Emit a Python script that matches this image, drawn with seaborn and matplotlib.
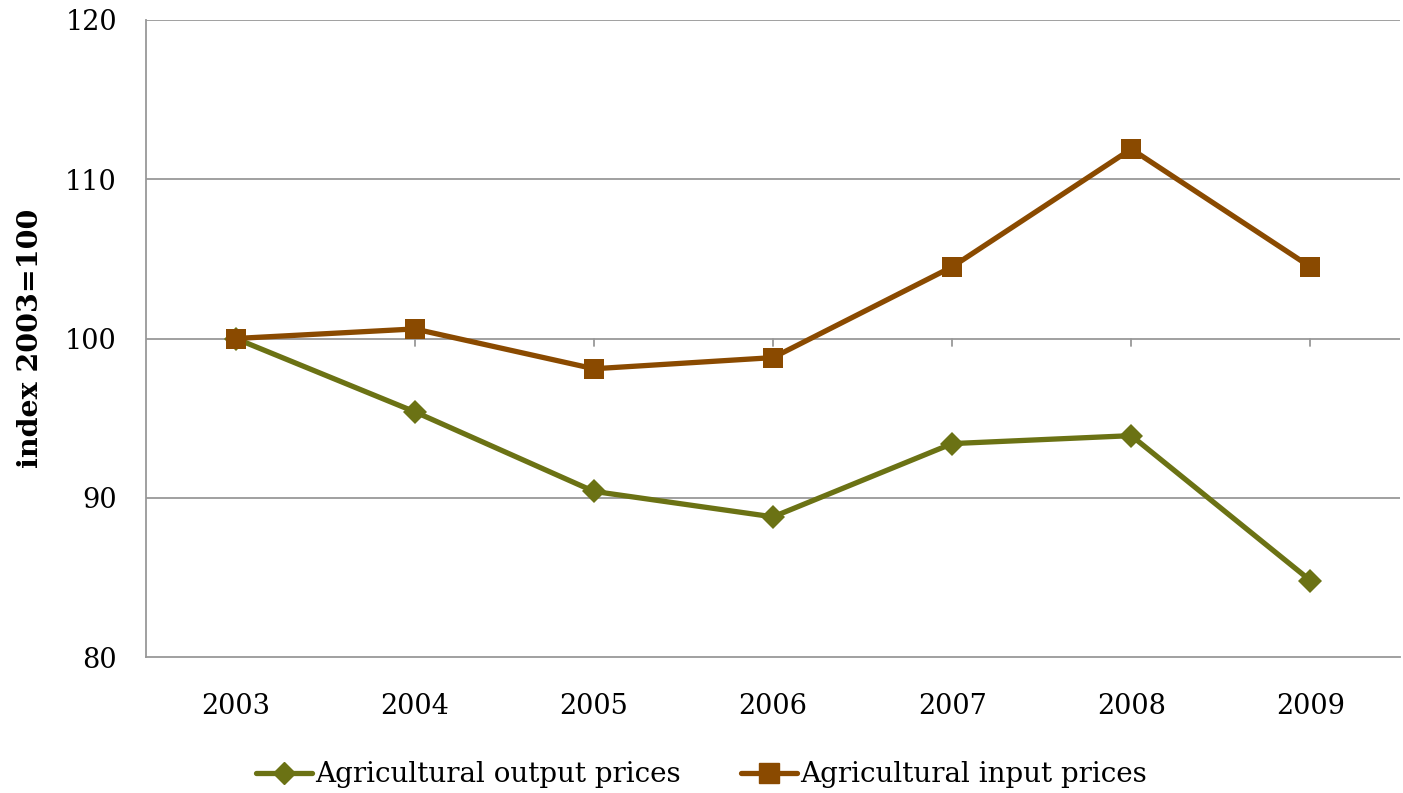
import matplotlib
matplotlib.use("Agg")
import matplotlib.pyplot as plt
import seaborn as sns
import pandas as pd
from matplotlib.lines import Line2D

years = ["2003", "2004", "2005", "2006", "2007", "2008", "2009"]
output_prices = [100.0, 95.4, 90.4, 88.8, 93.4, 93.9, 84.8]
input_prices = [100.0, 100.6, 98.1, 98.8, 104.5, 111.9, 104.5]
series_names = ["Agricultural output prices", "Agricultural input prices"]

green = "#6B7214"
brown = "#8A4A00"
grid_grey = "#989898"
marker_sizes = {series_names[0]: 12, series_names[1]: 14.5}

sns.set_theme(style="white")
plt.rcParams["font.family"] = ["DejaVu Serif"]
plt.rcParams["text.color"] = "black"
plt.rcParams["xtick.color"] = "black"
plt.rcParams["ytick.color"] = "black"
plt.rcParams["axes.labelcolor"] = "black"

df = pd.DataFrame({
    "year": years * 2,
    "x": list(range(len(years))) * 2,
    "value": output_prices + input_prices,
    "series": [series_names[0]] * len(years) + [series_names[1]] * len(years),
})

fig = plt.figure(figsize=(14.03, 7.93), dpi=100)
ax = fig.add_axes([146 / 1403, 1 - 657 / 793, (1400 - 146) / 1403, (657 - 20) / 793])

sns.lineplot(data=df, x="x", y="value", hue="series", style="series",
             palette={series_names[0]: green, series_names[1]: brown},
             markers={series_names[0]: "D", series_names[1]: "s"},
             dashes=False, linewidth=3.8, markersize=14.5, markeredgewidth=0,
             ax=ax, legend=False, zorder=3)

# diamond markers are drawn smaller than the squares
for line, name in zip(ax.lines, series_names):
    line.set_markersize(marker_sizes[name])

ax.set_xlim(-0.5, len(years) - 0.5)
ax.set_ylim(80, 120)
ax.set_yticks([80, 90, 100, 110, 120])
ax.set_xticks(range(len(years)))
ax.set_xticklabels(years)
for y in [90, 100, 110, 120]:
    ax.axhline(y, color=grid_grey, linewidth=1.3, zorder=1)

# horizontal axis crosses at 100 with small downward ticks
for i in range(len(years)):
    ax.plot([i, i], [100, 99.55], color=grid_grey, linewidth=1.3, zorder=1)

for side in ["top", "right"]:
    ax.spines[side].set_visible(False)
ax.spines["left"].set_color(grid_grey)
ax.spines["left"].set_linewidth(1.3)
ax.spines["bottom"].set_color(grid_grey)
ax.spines["bottom"].set_linewidth(1.3)

ax.tick_params(axis="x", length=0, pad=26, labelsize=19.5)
ax.tick_params(axis="y", length=0, pad=21, labelsize=19.5)
ax.set_xlabel("")
ax.set_ylabel("index 2003=100", fontsize=20.5, fontweight="bold", labelpad=15)

handles = [
    Line2D([], [], color=green, marker="D", linewidth=3.8, markersize=11),
    Line2D([], [], color=brown, marker="s", linewidth=3.8, markersize=14),
]
fig.legend(handles, series_names, loc="center", bbox_to_anchor=(0.5, 1 - 775 / 793),
           ncol=2, frameon=False, fontsize=20, handlelength=2.0, handletextpad=0.1,
           columnspacing=2.2)

fig.savefig("out.png", dpi=100, facecolor="white")
